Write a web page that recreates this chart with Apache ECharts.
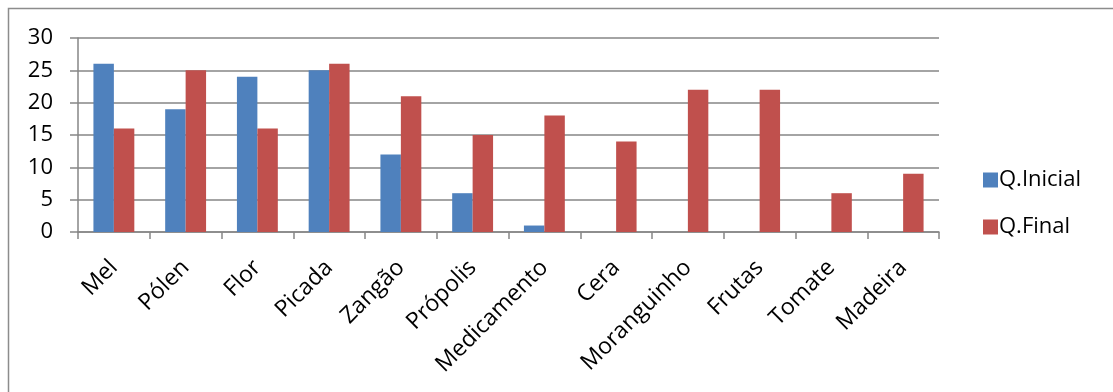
<!DOCTYPE html>
<html>
<head>
<meta charset="utf-8">
<script src="https://cdn.jsdelivr.net/npm/echarts@6/dist/echarts.min.js"></script>
<style>
  html, body { margin: 0; padding: 0; background: #fff; }
  #chart { width: 1113px; height: 392px; }
</style>
</head>
<body>
<div id="chart"></div>
<script>
var categorias = ['Mel', 'Pólen', 'Flor', 'Picada', 'Zangão', 'Própolis', 'Medicamento', 'Cera', 'Moranguinho', 'Frutas', 'Tomate', 'Madeira'];
var qInicial = [26, 19, 24, 25, 12, 6, 1, 0, 0, 0, 0, 0];
var qFinal = [16, 25, 16, 26, 21, 15, 18, 14, 22, 22, 6, 9];
var yTicks = [0, 5, 10, 15, 20, 25, 30];

var fonte = 'Open Sans, Noto Sans, sans-serif';
var myChart = echarts.init(document.getElementById('chart'));

var option = {
    animation: false,
    color: ['#4F81BD', '#C0504D'],
    // moldura do gráfico
    graphic: [{
        type: 'rect',
        shape: { x: 8.5, y: 8.5, width: 1120, height: 400 },
        style: { fill: 'none', stroke: '#8c8c8c', lineWidth: 1.5 },
        silent: true
    }],
    grid: { left: 78, right: 174, top: 38, bottom: 160 },
    legend: {
        orient: 'vertical',
        left: 978,
        top: 164,
        itemWidth: 15,
        itemHeight: 15,
        itemGap: 25,
        icon: 'rect',
        textStyle: { fontFamily: fonte, fontSize: 22, lineHeight: 22, color: '#000', padding: [0, 0, 0, -4] },
        data: ['Q.Inicial', 'Q.Final']
    },
    xAxis: {
        type: 'category',
        data: categorias,
        axisLine: { lineStyle: { color: '#868686', width: 1.5 } },
        axisTick: { show: true, length: 7, lineStyle: { color: '#868686', width: 1.5 } },
        axisLabel: {
            interval: 0,
            rotate: 45,
            margin: 32,
            fontFamily: fonte,
            fontSize: 23,
            color: '#000'
        }
    },
    yAxis: {
        type: 'value',
        min: yTicks[0],
        max: yTicks[yTicks.length - 1],
        interval: 5,
        axisLine: { show: true, lineStyle: { color: '#868686', width: 1.5 } },
        axisTick: { show: true, length: 8, lineStyle: { color: '#868686', width: 1.5 } },
        splitLine: { lineStyle: { color: '#868686', width: 1.5 } },
        axisLabel: { margin: 25, fontFamily: fonte, fontSize: 22, color: '#000' }
    },
    series: [
        {
            name: 'Q.Inicial',
            type: 'bar',
            data: qInicial,
            barGap: '0%',
            barCategoryGap: '43%'
        },
        {
            name: 'Q.Final',
            type: 'bar',
            data: qFinal,
            barGap: '0%',
            barCategoryGap: '43%'
        }
    ]
};
myChart.setOption(option);
</script>
</body>
</html>
